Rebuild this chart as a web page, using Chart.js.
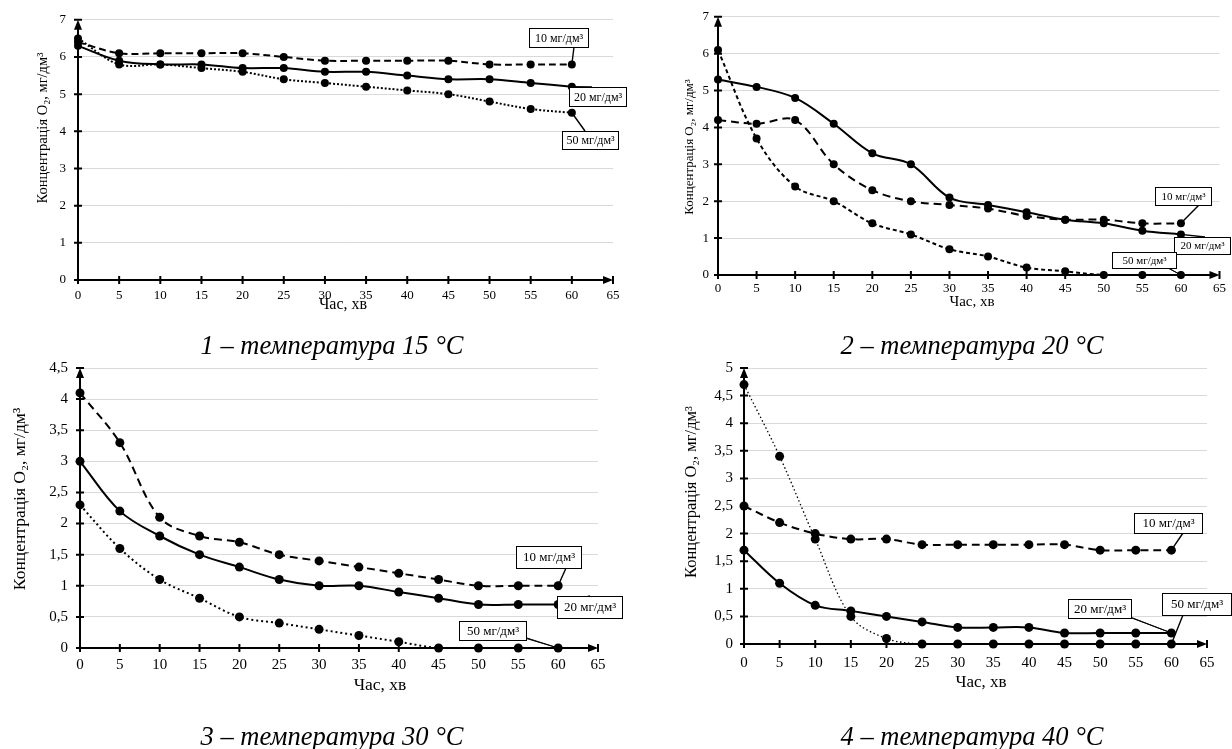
<!DOCTYPE html>
<html>
<head>
<meta charset="utf-8">
<script src="https://cdn.jsdelivr.net/npm/chart.js@4.4.1/dist/chart.umd.min.js"></script>
<style>
    html, body { margin: 0; padding: 0; background: #fff; }
    #wrap { position: relative; width: 1232px; height: 749px; overflow: hidden; }
    #wrap canvas { position: absolute; left: 0; top: 0; }
    .caption {
        position: absolute;
        width: 400px;
        text-align: center;
        font: italic 26.5px "Liberation Serif", "Times New Roman", serif;
        line-height: 30px;
        color: #000;
        white-space: nowrap;
    }
</style>
</head>
<body>
<div id="wrap">
    <canvas id="c15" width="1232" height="749"></canvas>
    <canvas id="c20" width="1232" height="749"></canvas>
    <canvas id="c30" width="1232" height="749"></canvas>
    <canvas id="c40" width="1232" height="749"></canvas>
    <div class="caption" style="left:132px; top:330px;">1 – температура 15 °C</div>
    <div class="caption" style="left:772px; top:330px;">2 – температура 20 °C</div>
    <div class="caption" style="left:132px; top:721px;">3 – температура 30 °C</div>
    <div class="caption" style="left:772px; top:721px;">4 – температура 40 °C</div>
</div>
<script>
// Time points, min
const times = [0, 5, 10, 15, 20, 25, 30, 35, 40, 45, 50, 55, 60];
const xTicks = [0, 5, 10, 15, 20, 25, 30, 35, 40, 45, 50, 55, 60, 65];

// Y tick labels per panel
const yTicks15 = [0, 1, 2, 3, 4, 5, 6, 7];
const yTicks20 = [0, 1, 2, 3, 4, 5, 6, 7];
const yTicks30 = [0, 0.5, 1, 1.5, 2, 2.5, 3, 3.5, 4, 4.5];
const yTicks40 = [0, 0.5, 1, 1.5, 2, 2.5, 3, 3.5, 4, 4.5, 5];

// Series names
const seriesNames = ['10 мг/дм³', '20 мг/дм³', '50 мг/дм³'];

// 1 - 15 °C
const t15_c10 = [6.4, 6.1, 6.1, 6.1, 6.1, 6.0, 5.9, 5.9, 5.9, 5.9, 5.8, 5.8, 5.8];
const t15_c20 = [6.3, 5.9, 5.8, 5.8, 5.7, 5.7, 5.6, 5.6, 5.5, 5.4, 5.4, 5.3, 5.2];
const t15_c50 = [6.5, 5.8, 5.8, 5.7, 5.6, 5.4, 5.3, 5.2, 5.1, 5.0, 4.8, 4.6, 4.5];

// 2 - 20 °C
const t20_c10 = [4.2, 4.1, 4.2, 3.0, 2.3, 2.0, 1.9, 1.8, 1.6, 1.5, 1.5, 1.4, 1.4];
const t20_c20 = [5.3, 5.1, 4.8, 4.1, 3.3, 3.0, 2.1, 1.9, 1.7, 1.5, 1.4, 1.2, 1.1];
const t20_c50 = [6.1, 3.7, 2.4, 2.0, 1.4, 1.1, 0.7, 0.5, 0.2, 0.1, 0, 0, 0];

// 3 - 30 °C
const t30_c10 = [4.1, 3.3, 2.1, 1.8, 1.7, 1.5, 1.4, 1.3, 1.2, 1.1, 1.0, 1.0, 1.0];
const t30_c20 = [3.0, 2.2, 1.8, 1.5, 1.3, 1.1, 1.0, 1.0, 0.9, 0.8, 0.7, 0.7, 0.7];
const t30_c50 = [2.3, 1.6, 1.1, 0.8, 0.5, 0.4, 0.3, 0.2, 0.1, 0, 0, 0, 0];

// 4 - 40 °C
const t40_c10 = [2.5, 2.2, 2.0, 1.9, 1.9, 1.8, 1.8, 1.8, 1.8, 1.8, 1.7, 1.7, 1.7];
const t40_c20 = [1.7, 1.1, 0.7, 0.6, 0.5, 0.4, 0.3, 0.3, 0.3, 0.2, 0.2, 0.2, 0.2];
const t40_c50 = [4.7, 3.4, 1.9, 0.5, 0.1, 0, 0, 0, 0, 0, 0, 0, 0];

const FONT = '"Liberation Serif", "Times New Roman", serif';
const Y_TITLE = 'Концентрація O₂, мг/дм³';
const X_TITLE = 'Час, хв';

// draws axes with arrows, tick bars, callout labels and axis titles
const decorPlugin = {
    id: 'decor',
    beforeDatasetsDraw(chart, args, opts) {
        const { ctx, chartArea: a, scales: { x, y } } = chart;
        ctx.save();
        ctx.strokeStyle = '#000';
        ctx.fillStyle = '#000';
        ctx.lineWidth = 2;
        ctx.beginPath();
        ctx.moveTo(a.left, a.bottom);
        ctx.lineTo(a.left, a.top + 4);
        ctx.moveTo(a.left, a.bottom);
        ctx.lineTo(a.right - 4, a.bottom);
        ctx.stroke();

        ctx.beginPath();
        x.ticks.forEach(t => {
            const px = x.getPixelForValue(t.value);
            ctx.moveTo(px, a.bottom - 4);
            ctx.lineTo(px, a.bottom + 4);
        });
        y.ticks.forEach(t => {
            const py = y.getPixelForValue(t.value);
            ctx.moveTo(a.left - 4, py);
            ctx.lineTo(a.left + 4, py);
        });
        ctx.stroke();

        // arrow heads
        ctx.beginPath();
        ctx.moveTo(a.left, a.top);
        ctx.lineTo(a.left - 4, a.top + 10);
        ctx.lineTo(a.left + 4, a.top + 10);
        ctx.closePath();
        ctx.fill();
        ctx.beginPath();
        ctx.moveTo(a.right, a.bottom);
        ctx.lineTo(a.right - 10, a.bottom - 4);
        ctx.lineTo(a.right - 10, a.bottom + 4);
        ctx.closePath();
        ctx.fill();
        ctx.restore();
    },
    afterDraw(chart, args, opts) {
        const ctx = chart.ctx;
        ctx.save();

        // callouts
        opts.labels.forEach(lb => {
            const meta = chart.getDatasetMeta(lb.series);
            const pt = meta.data[meta.data.length - 1];
            ctx.strokeStyle = '#000';
            ctx.lineWidth = 1;
            ctx.beginPath();
            if (lb.wedge) {
                ctx.moveTo(lb.tail[0] - 3, lb.tail[1]);
                ctx.lineTo(pt.x, pt.y);
                ctx.lineTo(lb.tail[0] + 3, lb.tail[1] + 3);
            } else {
                ctx.lineWidth = 1.4;
                ctx.moveTo(lb.tail[0], lb.tail[1]);
                ctx.lineTo(pt.x, pt.y);
            }
            ctx.stroke();

            const [bx, by, bw, bh] = lb.box;
            ctx.fillStyle = '#fff';
            ctx.fillRect(bx, by, bw, bh);
            ctx.lineWidth = 1;
            ctx.strokeRect(bx + 0.5, by + 0.5, bw, bh);
            ctx.fillStyle = '#000';
            ctx.font = `${opts.boxFont}px ${FONT}`;
            ctx.textAlign = 'center';
            ctx.textBaseline = 'middle';
            ctx.fillText(seriesNames[lb.series], bx + bw / 2 + 0.5, by + bh / 2 + 1);
        });

        // axis titles
        ctx.fillStyle = '#000';
        ctx.textAlign = 'center';
        ctx.textBaseline = 'middle';

        ctx.font = `${opts.xTitle.size}px ${FONT}`;
        ctx.fillText(X_TITLE, opts.xTitle.x, opts.xTitle.y);

        ctx.translate(opts.yTitle.x, opts.yTitle.y);
        ctx.rotate(-Math.PI / 2);
        ctx.font = `${opts.yTitle.size}px ${FONT}`;
        ctx.fillText(Y_TITLE, 0, 0);
        ctx.restore();
    }
};

function makeDataset(values, style, pointR) {
    return {
        data: times.map((t, i) => ({ x: t, y: values[i] })),
        borderColor: '#000',
        backgroundColor: '#000',
        borderWidth: style.width,
        borderDash: style.dash,
        pointRadius: pointR,
        pointBackgroundColor: '#000',
        pointBorderWidth: 0,
        tension: style.tension,
        fill: false,
        clip: false
    };
}

function buildChart(id, p) {
    const yScaleW = 60;
    const xScaleH = 30;
    new Chart(document.getElementById(id), {
        type: 'line',
        data: {
            datasets: p.series.map((s, i) => makeDataset(s, p.styles[i], p.pointR))
        },
        options: {
            responsive: false,
            animation: false,
            events: [],
            layout: {
                padding: {
                    left: p.area.left - yScaleW,
                    top: p.area.top,
                    right: 1232 - p.area.right,
                    bottom: 749 - p.area.bottom - xScaleH
                }
            },
            plugins: {
                legend: { display: false },
                tooltip: { enabled: false },
                decor: {
                    labels: p.labels,
                    boxFont: p.boxFont,
                    xTitle: p.xTitle,
                    yTitle: p.yTitle
                }
            },
            scales: {
                x: {
                    type: 'linear',
                    min: 0,
                    max: 65,
                    afterBuildTicks: sc => { sc.ticks = xTicks.map(v => ({ value: v })); },
                    afterFit: sc => { sc.height = xScaleH; },
                    grid: { display: false, drawTicks: false },
                    border: { display: false },
                    ticks: {
                        autoSkip: false,
                        maxRotation: 0,
                        padding: p.xTickPad,
                        color: '#000',
                        font: { family: FONT, size: p.tickSize }
                    }
                },
                y: {
                    type: 'linear',
                    min: 0,
                    max: p.yTicks[p.yTicks.length - 1],
                    afterBuildTicks: sc => { sc.ticks = p.yTicks.map(v => ({ value: v })); },
                    afterFit: sc => { sc.width = yScaleW; },
                    grid: { color: '#d9d9d9', lineWidth: 1, drawTicks: false },
                    border: { display: false },
                    ticks: {
                        padding: p.yTickPad,
                        color: '#000',
                        font: { family: FONT, size: p.tickSize },
                        callback: v => String(v).replace('.', ',')
                    }
                }
            }
        },
        plugins: [decorPlugin]
    });
}

const dashed = { width: 2, dash: [7, 4], tension: 0.35 };
const solid = { width: 2, dash: [], tension: 0.35 };
const dotted = { width: 2, dash: [2, 2], tension: 0.35 };

buildChart('c15', {
    series: [t15_c10, t15_c20, t15_c50],
    styles: [dashed, solid, dotted],
    yTicks: yTicks15,
    area: { left: 78, right: 613, top: 19, bottom: 280 },
    pointR: 4,
    tickSize: 13,
    xTickPad: 8,
    yTickPad: 12,
    boxFont: 12,
    xTitle: { x: 343, y: 305, size: 16 },
    yTitle: { x: 43, y: 128, size: 14.5 },
    labels: [
        { series: 0, box: [529, 28, 59, 19], tail: [574, 47] },
        { series: 1, box: [569, 87, 57, 19], tail: [592, 87] },
        { series: 2, box: [562, 131, 56, 18], tail: [585, 131] }
    ]
});

buildChart('c20', {
    series: [t20_c10, t20_c20, t20_c50],
    styles: [
        { width: 2, dash: [8, 5], tension: 0.35 },
        solid,
        { width: 2, dash: [4, 3], tension: 0.35 }
    ],
    yTicks: yTicks20,
    area: { left: 718, right: 1225, top: 16, bottom: 275 },
    pointR: 4,
    tickSize: 13,
    xTickPad: 6,
    yTickPad: 9,
    boxFont: 11,
    xTitle: { x: 972, y: 302, size: 15 },
    yTitle: { x: 690, y: 147, size: 13 },
    labels: [
        { series: 0, box: [1155, 187, 56, 18], tail: [1199, 205] },
        { series: 1, box: [1174, 237, 56, 17], tail: [1205, 237] },
        { series: 2, box: [1112, 252, 64, 16], tail: [1160, 262], wedge: true }
    ]
});

buildChart('c30', {
    series: [t30_c10, t30_c20, t30_c50],
    styles: [
        { width: 2, dash: [8, 5], tension: 0.35 },
        solid,
        { width: 2, dash: [2, 3], tension: 0.35 }
    ],
    yTicks: yTicks30,
    area: { left: 80, right: 598, top: 368, bottom: 648 },
    pointR: 4.5,
    tickSize: 15,
    xTickPad: 8,
    yTickPad: 12,
    boxFont: 13,
    xTitle: { x: 380, y: 685, size: 17.5 },
    yTitle: { x: 20, y: 499, size: 17.5 },
    labels: [
        { series: 0, box: [516, 546, 65, 22], tail: [566, 568] },
        { series: 1, box: [557, 596, 65, 22], tail: [590, 596] },
        { series: 2, box: [459, 621, 67, 19], tail: [505, 630], wedge: true }
    ]
});

buildChart('c40', {
    series: [t40_c10, t40_c20, t40_c50],
    styles: [
        { width: 2, dash: [8, 5], tension: 0.35 },
        solid,
        { width: 1.3, dash: [1.5, 2.5], tension: 0.35 }
    ],
    yTicks: yTicks40,
    area: { left: 744, right: 1207, top: 368, bottom: 644 },
    pointR: 4.5,
    tickSize: 15,
    xTickPad: 10,
    yTickPad: 11,
    boxFont: 13,
    xTitle: { x: 981, y: 683, size: 17 },
    yTitle: { x: 692, y: 492, size: 16.5 },
    labels: [
        { series: 0, box: [1134, 513, 68, 20], tail: [1183, 533] },
        { series: 1, box: [1068, 599, 63, 19], tail: [1110, 608], wedge: true },
        { series: 2, box: [1162, 593, 69, 22], tail: [1183, 615] }
    ]
});
</script>
</body>
</html>
